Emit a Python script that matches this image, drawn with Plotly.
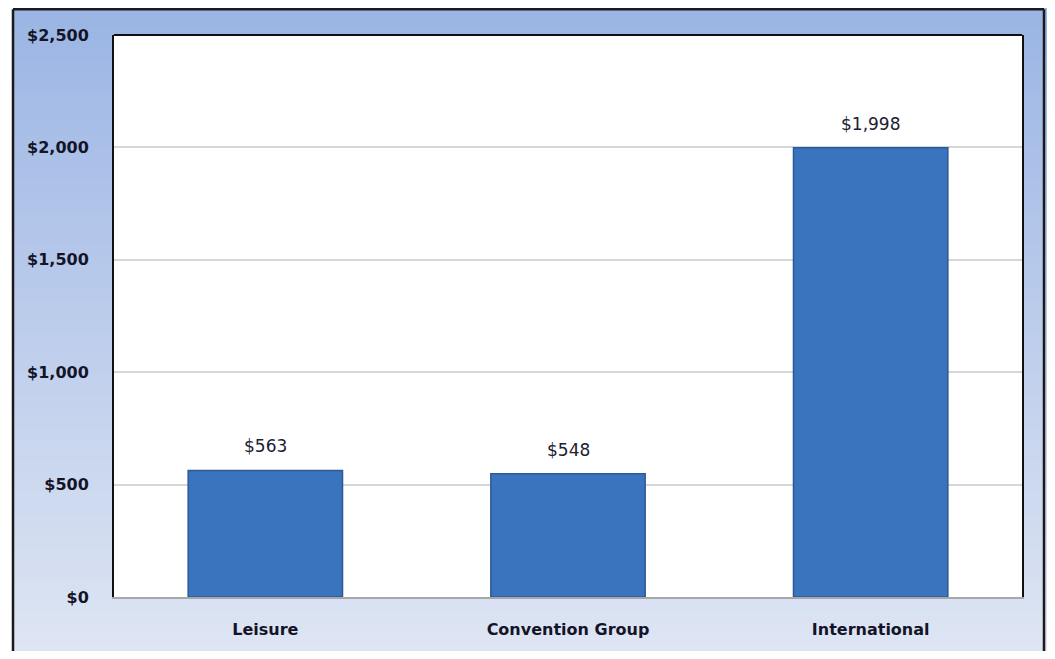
import plotly.graph_objects as go

categories = ["Leisure", "Convention Group", "International"]
values = [563, 548, 1998]
value_labels = ["$563", "$548", "$1,998"]
y_ticks = [0, 500, 1000, 1500, 2000, 2500]
y_tick_labels = ["$0", "$500", "$1,000", "$1,500", "$2,000", "$2,500"]

OFF = 8  # default page body margin
SW, SH = 1055, 659
W, H = SW - 2 * OFF, SH - 2 * OFF
PL, PT, PR, PB = 114, 35, 1022, 600   # plot area in screen pixels
L, T = PL - OFF, PT - OFF
R, B = (OFF + W) - PR, (OFF + H) - PB
pw, ph = PR - PL, PB - PT

def px_x(x):
    return (x - PL) / pw

def px_y(y):
    return (PB - y) / ph

fig = go.Figure()
fig.add_trace(go.Bar(
    x=categories, y=values,
    marker=dict(color="#3a74bf", line=dict(color="#2b5a96", width=1.5)),
    width=0.51,
    hoverinfo="skip",
))

shapes = []
# gradient background inside outer frame
top_c = (155, 181, 228)
bot_c = (222, 229, 243)
x0, x1 = px_x(13), px_x(1060)
yt, yb = 6, SH
n = 60
for i in range(n):
    f = i / (n - 1)
    c = tuple(int(round(top_c[k] + (bot_c[k] - top_c[k]) * f)) for k in range(3))
    s0 = yt + (yb - yt) * i / n
    s1 = yt + (yb - yt) * (i + 1) / n + 1
    shapes.append(dict(type="rect", xref="paper", yref="paper", layer="below",
                       x0=x0, x1=x1, y0=px_y(s1), y1=px_y(s0),
                       fillcolor="rgb(%d,%d,%d)" % c, line=dict(width=0)))
# outer frame (left, top, right)
FR = 1044
for (a, b, c_, d) in [(13, 9, 13, SH + 5), (13, 9, FR, 9), (FR, 9, FR, SH + 5)]:
    shapes.append(dict(type="line", xref="paper", yref="paper", layer="above",
                       x0=px_x(a), y0=px_y(b), x1=px_x(c_), y1=px_y(d),
                       line=dict(color="#1a1a1a", width=2.5)))
# plot area white
shapes.append(dict(type="rect", xref="paper", yref="paper", layer="below",
                   x0=0, x1=1, y0=0, y1=1, fillcolor="white", line=dict(width=0)))
# plot area top border
shapes.append(dict(type="line", xref="paper", yref="paper", layer="above",
                   x0=0, x1=1, y0=1, y1=1, line=dict(color="#111111", width=2)))

annotations = []
for c, v, t in zip(categories, values, value_labels):
    annotations.append(dict(x=c, y=v, xref="x", yref="y", text=t, showarrow=False,
                            yanchor="middle", yshift=24,
                            font=dict(family="DejaVu Sans", size=17, color="#202030")))

fig.update_layout(
    width=W, height=H,
    margin=dict(l=L, r=R, t=T, b=B),
    paper_bgcolor="white",
    plot_bgcolor="rgba(0,0,0,0)",
    showlegend=False,
    shapes=shapes,
    annotations=annotations,
    font=dict(family="DejaVu Sans", color="#141428"),
    xaxis=dict(
        showgrid=False, showline=True, linecolor="#a8a8a8", linewidth=2,
        ticks="outside", ticklen=17, tickcolor="rgba(0,0,0,0)",
        tickfont=dict(family="DejaVu Sans", size=16, weight="bold", color="#141428"),
        fixedrange=True,
    ),
    yaxis=dict(
        range=[0, 2500], tickvals=y_ticks, ticktext=y_tick_labels,
        showgrid=True, gridcolor="#d6d6d6", gridwidth=1.5,
        showline=True, mirror=True, linecolor="#111111", linewidth=2,
        ticks="outside", ticklen=20, tickcolor="rgba(0,0,0,0)",
        tickfont=dict(family="DejaVu Sans", size=16, weight="bold", color="#141428"),
        zeroline=False, fixedrange=True,
    ),
)

fig.write_html("out.html")
